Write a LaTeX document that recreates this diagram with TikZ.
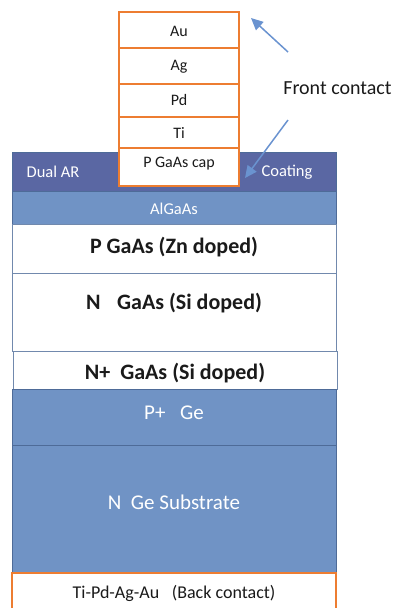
\documentclass[tikz,border=0pt]{standalone}
\usepackage{fontspec}
\setmainfont{Carlito}
\usetikzlibrary{arrows.meta}
\definecolor{arblue}{HTML}{5A67A3}
\definecolor{lyblue}{HTML}{7093C5}
\definecolor{edgeblue}{HTML}{4E6B98}
\definecolor{orng}{HTML}{ED7D31}
\definecolor{arrblue}{HTML}{6A93D0}
\definecolor{txt}{HTML}{1A1A1A}
\tikzset{
  bluelayer/.style={fill=lyblue, draw=edgeblue, line width=0.9pt},
  whitelayer/.style={fill=white, draw=edgeblue!80, line width=0.9pt},
  metal/.style={fill=white, draw=orng, line width=1.5pt},
  small/.style={font=\fontsize{16}{18}\selectfont, text=txt, inner sep=0pt},
  smallw/.style={font=\fontsize{16.5}{18}\selectfont, text=white, inner sep=0pt},
  bigb/.style={font=\fontsize{22}{24}\selectfont\bfseries, text=txt, inner sep=0pt},
  bigw/.style={font=\fontsize{21}{23}\selectfont, text=white, inner sep=0pt},
  pointer/.style={draw=arrblue, line width=1.5pt, -{Triangle[length=12pt,width=11pt]}}
}
\begin{document}
\begin{tikzpicture}[x=1pt,y=-1pt]
\useasboundingbox (0,0) rectangle (393,608);
% layers
\draw[fill=arblue, draw=edgeblue, line width=0.9pt] (12,152) rectangle (336,191);
\draw[bluelayer] (12,191) rectangle (336,224);
\draw[whitelayer] (12,224) rectangle (336,273);
\draw[whitelayer] (12,273) rectangle (336,351);
\draw[whitelayer] (13,351) rectangle (337,389);
\draw[bluelayer] (12,389) rectangle (336,445);
\draw[bluelayer] (12,445) rectangle (336,573);
\draw[metal] (12,573) rectangle (336,612);
% front contact stack
\draw[metal] (119,12) rectangle (239,48);
\draw[metal] (119,48) rectangle (239,84);
\draw[metal] (119,84) rectangle (239,117);
\draw[metal] (119,117) rectangle (239,148);
\draw[metal] (119,148) rectangle (239,186);
% labels
\node[small] (au) at (179,31) {Au};
\node[small] (ag) at (179,67) {Ag};
\node[small] (pd) at (179,100) {Pd};
\node[small] (ti) at (179,133) {Ti};
\node[small] (cap) at (179,164) {P GaAs cap};
\node[smallw] (dual) at (53,172) {Dual AR};
\node[smallw] (coat) at (287,172) {Coating};
\node[smallw] (algaas) at (174,209) {AlGaAs};
\node[bigb] (pgaas) at (174,247) {P GaAs (Zn doped)};
\node[bigb] (ngaas) at (174,303) {N\hspace{0.75em}GaAs (Si doped)};
\node[bigb] (npgaas) at (175,373) {N+\hspace{0.45em}GaAs (Si doped)};
\node[bigw] (pge) at (174,413) {P+\hspace{0.7em}Ge};
\node[bigw] (nge) at (174,502) {N\hspace{0.45em}Ge Substrate};
\node[font=\fontsize{18}{20}\selectfont, text=txt, inner sep=0pt] (back) at (174,593) {Ti-Pd-Ag-Au\hspace{0.7em}(Back contact)};
\node[font=\fontsize{20}{22}\selectfont, text=txt, inner sep=0pt] (front) at (337.5,88) {Front contact};
% pointers
\coordinate (t1) at (288,52);
\coordinate (h1) at (251,18);
\coordinate (t2) at (288,120);
\coordinate (h2) at (245,178);
\draw[pointer] (t1) -- (h1);
\draw[pointer] (t2) -- (h2);
\end{tikzpicture}
\end{document}
